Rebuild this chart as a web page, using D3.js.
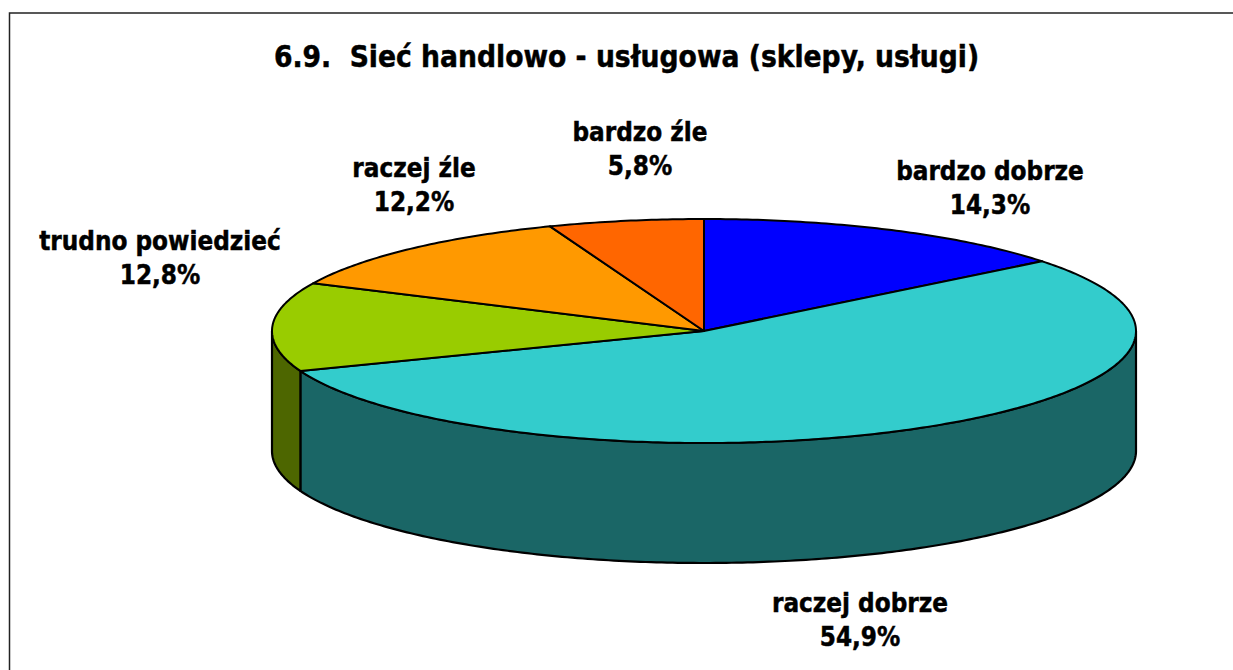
<!DOCTYPE html>
<html><head><meta charset="utf-8">
<script src="https://cdn.jsdelivr.net/npm/d3@7/dist/d3.min.js"></script>
<style>
html,body{margin:0;padding:0;background:#fff;overflow:hidden}
text{font-family:"DejaVu Sans",sans-serif;font-weight:700;font-stretch:condensed;fill:#000;stroke:#000;stroke-width:.45}
</style></head><body>
<svg id="c" width="1233" height="670"></svg>
<script>
const title = "6.9.  Sieć handlowo - usługowa (sklepy, usługi)";
const categories = ["bardzo dobrze","raczej dobrze","trudno powiedzieć","raczej źle","bardzo źle"];
const values = [14.3,54.9,12.8,12.2,5.8];
const valueLabels = ["14,3%","54,9%","12,8%","12,2%","5,8%"];
const topColors = ["#0000FF","#33CCCC","#99CC00","#FF9900","#FF6600"];
const sideColors = ["#000080","#1A6666","#4D6600","#805000","#803300"];

// layout
const labelX = [990,860,160,414,640], labelY = [180,612,249.5,176.5,140.5];
const lineGap = 34, depth = 120;
const x = d3.scaleLinear().domain([-1,1]).range([272,1136]);
const y = d3.scaleLinear().domain([-1,1]).range([219,443]);

const svg = d3.select("#c");
svg.append("path").attr("d","M9.5,670V13H1233").attr("fill","none").attr("stroke","#222").attr("stroke-width",1.5);

const arcs = d3.pie().sort(null).value(d=>d)(values).map((a,i)=>({...a,i}));
const pt = t => [x(Math.sin(t)), y(-Math.cos(t))];
const samples = (a,b) => { const n=Math.max(2,Math.ceil((b-a)*80)); return d3.range(n+1).map(k=>a+(b-a)*k/n); };
const line = d3.line();

// side walls: only the front half (from 90 deg to 270 deg clockwise from top) shows
const sideG = svg.append("g");
arcs.forEach(a=>{
  const s=Math.max(a.startAngle,Math.PI/2), e=Math.min(a.endAngle,Math.PI*1.5);
  if(e<=s) return;
  const top=samples(s,e).map(pt);
  const bottom=top.map(p=>[p[0],p[1]+depth]).reverse();
  sideG.append("path").attr("d",line(top.concat(bottom))+"Z")
    .attr("fill",sideColors[a.i]).attr("stroke","#000").attr("stroke-width",2.2).attr("stroke-linejoin","round");
});

// top slices
const topG = svg.append("g");
arcs.forEach(a=>{
  const pts=[[x(0),y(0)]].concat(samples(a.startAngle,a.endAngle).map(pt));
  topG.append("path").attr("d",line(pts)+"Z")
    .attr("fill",topColors[a.i]).attr("stroke","#000").attr("stroke-width",2).attr("stroke-linejoin","round");
});

svg.append("text").attr("x",626.5).attr("y",67).attr("text-anchor","middle")
  .attr("font-size",29.6).attr("xml:space","preserve").style("white-space","pre").text(title);

categories.forEach((c,i)=>{
  const t=svg.append("text").attr("text-anchor","middle").attr("font-size",25.8);
  t.append("tspan").attr("x",labelX[i]).attr("y",labelY[i]).text(c);
  t.append("tspan").attr("x",labelX[i]).attr("y",labelY[i]+lineGap).text(valueLabels[i]);
});
</script>
</body></html>
